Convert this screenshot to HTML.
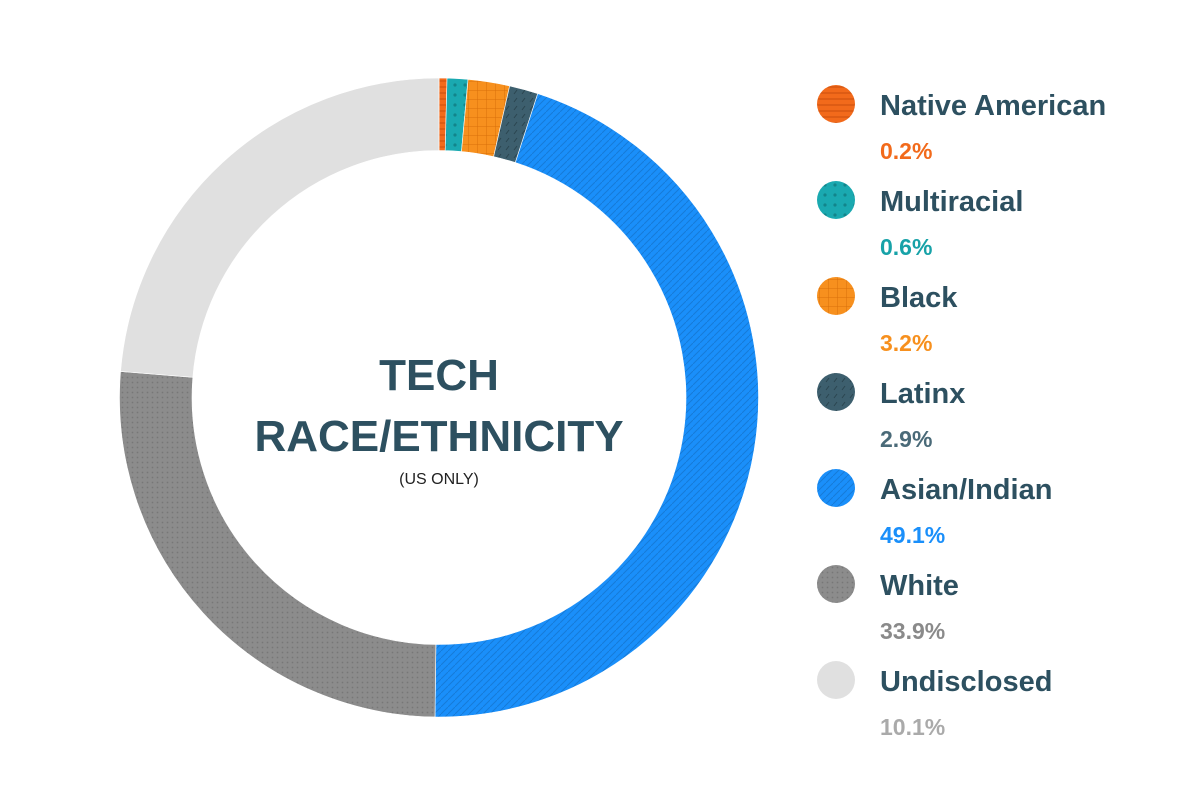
<!DOCTYPE html>
<html><head><meta charset="utf-8"><style>
body{margin:0;background:#fff;width:1200px;height:800px;overflow:hidden;font-family:"Liberation Sans",sans-serif}
</style></head><body>
<svg id="chart" width="1200" height="800">
<defs>
<pattern id="p0" width="6" height="6" patternUnits="userSpaceOnUse"><rect width="6" height="6" fill="#f26a1b"/><path d="M0 3H6" stroke="#c94f0c" stroke-width="1"/></pattern>
<pattern id="p1" width="10" height="10" patternUnits="userSpaceOnUse"><rect width="10" height="10" fill="#1aa9b0"/><circle cx="5" cy="5" r="1.6" fill="#12858b"/></pattern>
<pattern id="p2" width="9" height="9" patternUnits="userSpaceOnUse"><rect width="9" height="9" fill="#f7901e"/><path d="M0 0H9M0 0V9" stroke="#d86f0a" stroke-width="1"/></pattern>
<pattern id="p3" width="8" height="8" patternUnits="userSpaceOnUse"><rect width="8" height="8" fill="#3d5f6e"/><path d="M2 6L5 2" stroke="#2a4550" stroke-width="1"/></pattern>
<pattern id="p4" width="7" height="7" patternUnits="userSpaceOnUse"><rect width="7" height="7" fill="#1a8ffa"/><path d="M0 7L7 0" stroke="#157ad8" stroke-width="1"/></pattern>
<pattern id="p5" width="5" height="5" patternUnits="userSpaceOnUse"><rect width="5" height="5" fill="#8c8c8c"/><circle cx="2.5" cy="2.5" r="0.9" fill="#777"/></pattern>
<pattern id="p6" width="5" height="5" patternUnits="userSpaceOnUse"><rect width="5" height="5" fill="#e0e0e0"/></pattern>
</defs>
<g id="slices"></g>
<g id="legend"></g>
<text x="439" y="390" text-anchor="middle" font-size="44" font-weight="bold" fill="#2d5060">TECH</text>
<text x="439" y="451" text-anchor="middle" font-size="44" font-weight="bold" fill="#2d5060">RACE/ETHNICITY</text>
<text x="439" y="484" text-anchor="middle" font-size="16" fill="#222">(US ONLY)</text>
</svg>
<script>
const categories=["Native American","Multiracial","Black","Latinx","Asian/Indian","White","Undisclosed"];
const printedValues=["0.2%","0.6%","3.2%","2.9%","49.1%","33.9%","10.1%"];
const sliceShares=[0.4,1.05,2.1,1.45,45.2,26.1,23.7];
const fills=["url(#p0)","url(#p1)","url(#p2)","url(#p3)","url(#p4)","url(#p5)","url(#p6)"];
const swatch=["#f26a1b","#1aa9b0","#f7901e","#3d5f6e","#1a8ffa","#8c8c8c","#e0e0e0"];
const textCol=["#f26a1b","#17a2a8","#f7901e","#4a6a78","#1a8ffa","#8a8a8a","#aaaaaa"];
const NS="http://www.w3.org/2000/svg";
const cx=439,cy=397.5,R=319.5,r=247;
const total=sliceShares.reduce((a,b)=>a+b,0);
function pt(a,rad){return [cx+rad*Math.sin(a),cy-rad*Math.cos(a)];}
let acc=0;const g=document.getElementById('slices');
sliceShares.forEach((v,i)=>{
 const a0=acc/total*2*Math.PI;acc+=v;const a1=acc/total*2*Math.PI;
 const big=(a1-a0)>Math.PI?1:0;
 const [x0,y0]=pt(a0,R),[x1,y1]=pt(a1,R),[x2,y2]=pt(a1,r),[x3,y3]=pt(a0,r);
 const p=document.createElementNS(NS,'path');
 p.setAttribute('d',`M${x0} ${y0}A${R} ${R} 0 ${big} 1 ${x1} ${y1}L${x2} ${y2}A${r} ${r} 0 ${big} 0 ${x3} ${y3}Z`);
 p.setAttribute('fill',fills[i]);p.setAttribute('stroke','#fff');p.setAttribute('stroke-width','0.6');
 
 
 g.appendChild(p);
});
const lg=document.getElementById('legend');
categories.forEach((c,i)=>{
 const y=104+i*96;
 const ci=document.createElementNS(NS,'circle');
 ci.setAttribute('cx',836);ci.setAttribute('cy',y);ci.setAttribute('r',19);ci.setAttribute('fill',fills[i]);
 
 
 lg.appendChild(ci);
 const t=document.createElementNS(NS,'text');
 t.setAttribute('x',880);t.setAttribute('y',y+11);t.setAttribute('font-size',29);t.setAttribute('font-weight','bold');t.setAttribute('fill','#2d5060');
 t.textContent=c;
 
 
 lg.appendChild(t);
 const v=document.createElementNS(NS,'text');
 v.setAttribute('x',880);v.setAttribute('y',y+55);v.setAttribute('font-size',23);v.setAttribute('font-weight','bold');v.setAttribute('fill',textCol[i]);
 v.textContent=printedValues[i];
 
 
 lg.appendChild(v);
});
</script>
</body></html>
